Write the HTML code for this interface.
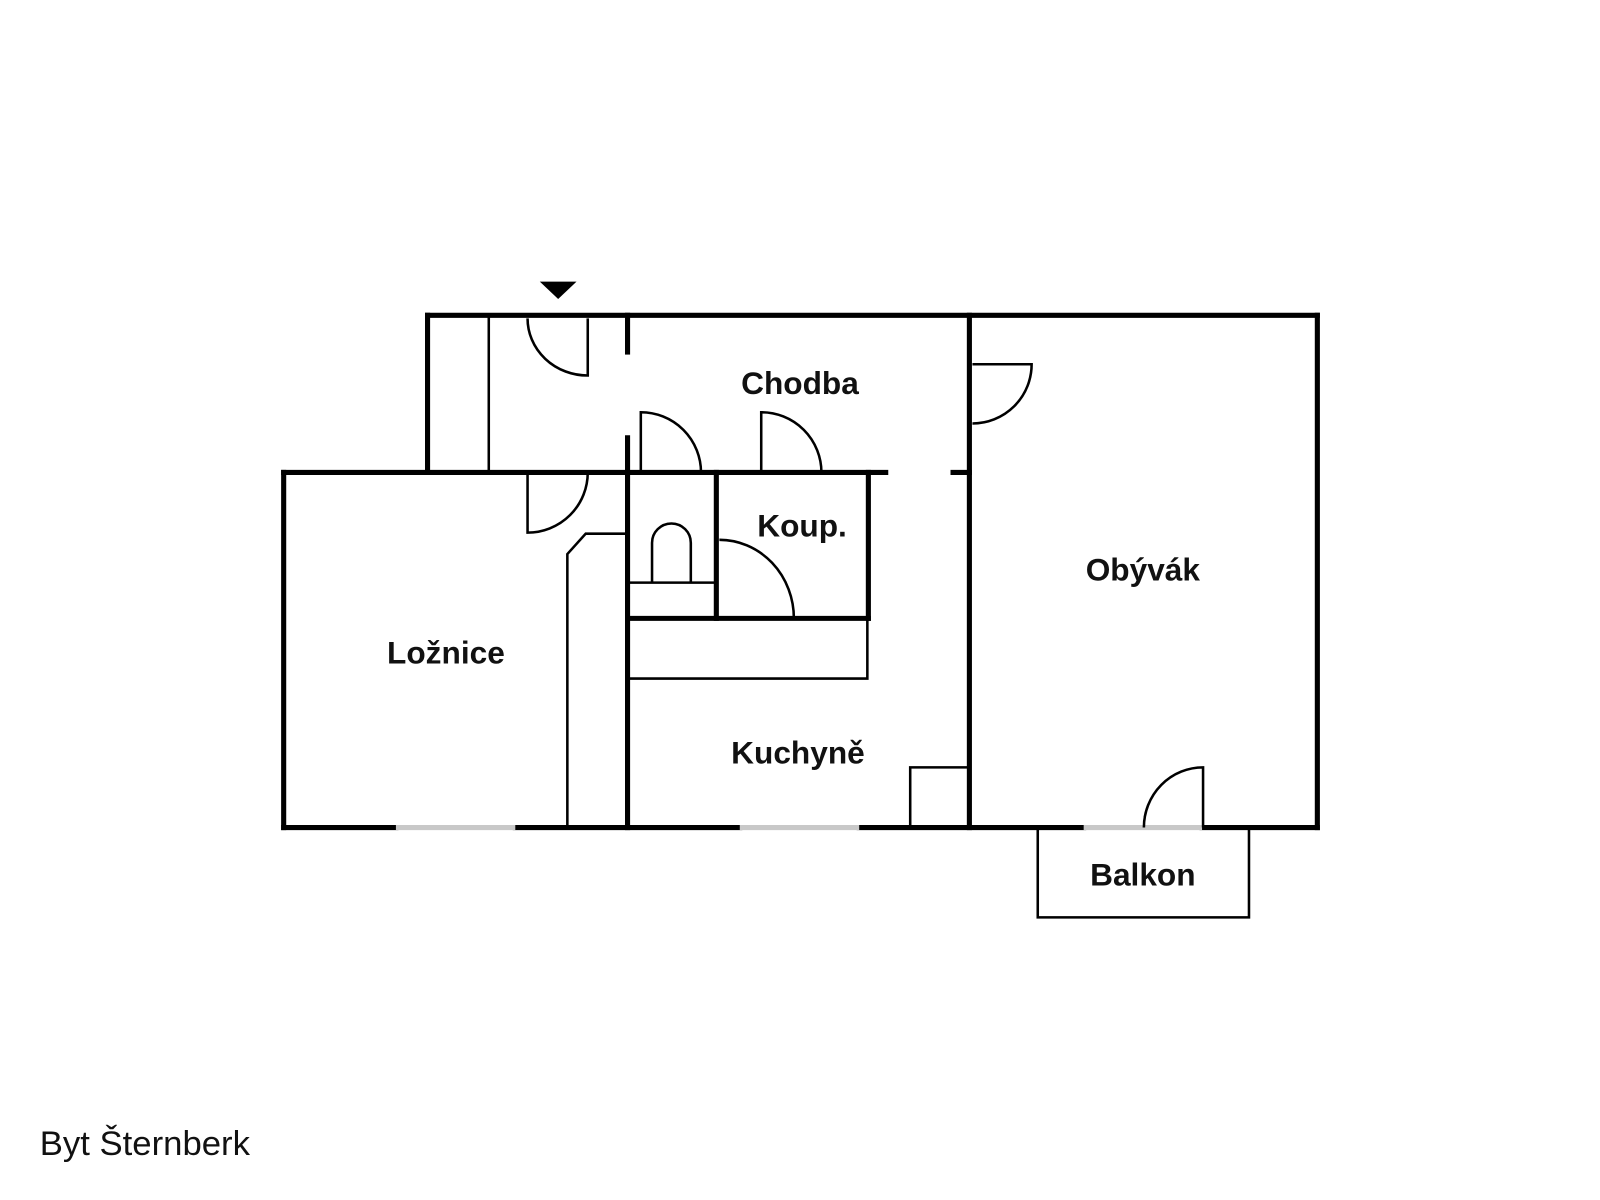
<!DOCTYPE html>
<html><head><meta charset="utf-8"><style>
html,body{margin:0;padding:0;background:#fff}
svg{display:block}
text{font-family:"Liberation Sans",sans-serif;fill:#111}
</style></head><body>
<svg width="1600" height="1200" viewBox="0 0 1568 1176" xmlns="http://www.w3.org/2000/svg">
<g stroke="#000" stroke-width="5" fill="none" stroke-linecap="square">
<line x1="419" y1="309" x2="1291" y2="309"/>
<line x1="419" y1="309" x2="419" y2="463"/>
<line x1="278" y1="463" x2="868" y2="463"/>
<line x1="934" y1="463" x2="950" y2="463"/>
<line x1="278" y1="463" x2="278" y2="811"/>
<line x1="1291" y1="309" x2="1291" y2="811"/>
<line x1="950" y1="309" x2="950" y2="811"/>
<line x1="615" y1="309" x2="615" y2="345"/>
<line x1="615" y1="429" x2="615" y2="811"/>
<line x1="702" y1="463" x2="702" y2="606"/>
<line x1="851" y1="463" x2="851" y2="606"/>
<line x1="615" y1="606" x2="851" y2="606"/>
<line x1="278" y1="811" x2="388" y2="811"/>
<line x1="505" y1="811" x2="725" y2="811"/>
<line x1="842" y1="811" x2="1062" y2="811"/>
<line x1="1178" y1="811" x2="1291" y2="811"/>
</g>
<g stroke="#c8c8c8" stroke-width="5">
<line x1="388" y1="811" x2="505" y2="811"/>
<line x1="725" y1="811" x2="842" y2="811"/>
<line x1="1062" y1="811" x2="1178" y2="811"/>
</g>
<g stroke="#000" stroke-width="2.5" fill="none">
<line x1="479" y1="311" x2="479" y2="461"/>
<path d="M576 312 V368 A59 56 0 0 1 517 312"/>
<path d="M628 463 V404 A59 59 0 0 1 687 463"/>
<path d="M746 463 V404 A59 59 0 0 1 805 463"/>
<path d="M953 357 H1011 A58 58 0 0 1 953 415"/>
<path d="M517 463 V522 A59 59 0 0 0 576 463"/>
<path d="M705 529 A73 77 0 0 1 778 606"/>
<path d="M1179 811 V752 A58 59 0 0 0 1121 811"/>
<path d="M639 571 V532 A19 19 0 0 1 677 532 V571"/>
<line x1="617" y1="571" x2="700" y2="571"/>
<path d="M556 811 V543 L574 523 H613"/>
<path d="M617 665 H850 V608"/>
<path d="M892 811 V752 H948"/>
<path d="M1017 813 V899 H1224 V813"/>
</g>
<polygon points="529,276 565,276 547,293" fill="#000"/>
<g font-size="31" text-anchor="middle" font-weight="bold">
<text x="784" y="386">Chodba</text>
<text x="786" y="526">Koup.</text>
<text x="437" y="650">Ložnice</text>
<text x="782" y="748">Kuchyně</text>
<text x="1120" y="569">Obývák</text>
<text x="1120" y="868">Balkon</text>
</g>
<text x="39" y="1132" font-size="34">Byt Šternberk</text>
</svg>
</body></html>
